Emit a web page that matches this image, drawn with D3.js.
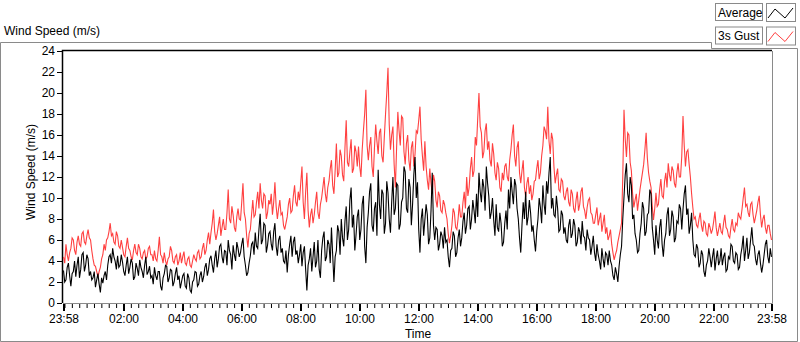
<!DOCTYPE html>
<html>
<head>
<meta charset="utf-8">
<script src="https://cdn.jsdelivr.net/npm/d3@7"></script>
<style>
  body { margin: 0; background: #fff; }
  svg { display: block; font-family: "Liberation Sans", Arial, sans-serif; }
</style>
</head>
<body>
<svg id="chart" width="800" height="342"></svg>
<script>
// 2.5-minute samples from 23:58 to 23:58 next day (one row per hour)
const averageSpeed = [
  3.1, 2.0, 2.2, 3.4, 3.8, 2.6, 1.6, 2.8, 3.0, 4.0, 2.5, 3.6, 4.4, 2.4, 3.2, 4.6, 4.8, 3.0, 3.6, 4.6, 4.2, 2.6, 3.0, 2.2,
  2.4, 3.0, 1.5, 2.2, 2.8, 1.8, 1.0, 2.4, 1.9, 2.6, 3.0, 2.2, 3.6, 4.4, 4.6, 3.8, 5.2, 4.4, 4.0, 3.2, 4.5, 3.4, 3.6, 4.6,
  3.9, 3.0, 2.6, 3.6, 4.4, 2.8, 3.4, 4.2, 3.8, 2.2, 2.5, 3.8, 3.3, 2.6, 4.1, 3.4, 3.0, 2.4, 3.6, 4.4, 2.7, 3.0, 3.5, 2.4,
  2.6, 1.8, 3.4, 2.6, 2.2, 3.0, 3.0, 1.6, 1.2, 2.4, 2.8, 3.6, 3.5, 2.0, 2.4, 3.2, 3.1, 1.6, 2.0, 2.8, 3.4, 2.2, 2.6, 1.4,
  2.0, 2.6, 2.8, 1.6, 1.4, 2.8, 2.4, 1.2, 1.0, 2.0, 2.2, 3.0, 2.9, 1.6, 1.8, 2.6, 3.0, 2.0, 2.5, 3.4, 3.8, 2.6, 3.2, 4.2,
  4.5, 3.6, 2.9, 4.2, 5.0, 3.4, 4.2, 5.4, 5.6, 4.4, 3.8, 5.0, 4.9, 3.6, 6.0, 5.0, 4.6, 3.2, 5.5, 4.6, 4.0, 5.8, 5.2, 4.4,
  4.8, 5.6, 6.2, 4.4, 3.6, 2.6, 2.9, 3.8, 4.5, 5.6, 5.8, 4.6, 6.7, 5.4, 5.2, 7.0, 8.5, 5.6, 6.0, 7.6, 7.4, 4.8, 5.5, 6.6,
  6.8, 5.6, 5.0, 6.8, 7.6, 5.4, 4.5, 6.0, 6.4, 4.8, 5.2, 4.0, 3.8, 5.0, 2.9, 4.6, 5.6, 6.4, 4.4, 5.8, 6.3, 4.6, 5.0, 3.8,
  4.6, 5.6, 3.5, 4.8, 5.4, 3.2, 1.2, 3.6, 4.2, 5.2, 3.0, 4.4, 5.8, 3.4, 4.0, 6.0, 3.2, 2.4, 5.0, 6.2, 6.8, 4.0, 4.4, 6.0,
  5.6, 3.8, 7.2, 4.6, 2.0, 4.4, 5.0, 7.4, 6.8, 4.6, 8.0, 6.2, 5.4, 7.8, 9.2, 6.0, 7.0, 9.8, 11.0, 7.2, 8.4, 5.0, 6.5, 8.2,
  8.9, 6.0, 7.0, 9.4, 10.2, 5.4, 3.8, 7.2, 8.6, 10.6, 11.4, 7.4, 6.8, 9.0, 9.6, 6.4, 12.7, 9.4, 8.0, 10.8, 10.4, 6.6, 7.6, 11.6,
  10.5, 8.0, 6.7, 9.6, 12.0, 8.4, 9.0, 11.4, 11.2, 7.0, 7.5, 9.6, 10.0, 13.0, 12.5, 9.0, 8.6, 11.8, 11.0, 7.4, 9.4, 12.2, 13.9, 10.0,
  11.5, 7.0, 4.8, 8.0, 9.0, 6.4, 7.9, 9.4, 8.4, 5.6, 6.2, 8.8, 12.4, 7.4, 6.0, 7.2, 7.0, 5.0, 5.6, 6.8, 6.4, 5.2, 7.2, 5.8,
  6.0, 4.4, 3.4, 5.0, 5.2, 6.8, 6.4, 4.4, 4.8, 6.2, 7.0, 5.4, 6.2, 7.8, 8.6, 6.6, 7.4, 9.0, 9.2, 7.0, 8.0, 9.8, 8.8, 7.6,
  10.4, 8.2, 12.4, 10.6, 9.6, 11.8, 11.0, 8.8, 13.0, 11.4, 10.2, 8.0, 8.6, 10.0, 7.9, 6.4, 9.4, 7.2, 6.8, 8.6, 7.6, 5.4, 5.8, 7.6,
  8.8, 7.0, 10.8, 9.0, 12.0, 10.6, 9.4, 11.8, 11.2, 9.0, 8.0, 6.2, 4.8, 7.4, 9.6, 8.0, 10.6, 7.4, 8.2, 9.8, 8.6, 6.8, 7.4, 6.0,
  4.9, 6.8, 8.0, 10.0, 9.1, 7.6, 11.2, 9.4, 8.4, 11.6, 10.4, 12.4, 13.9, 9.0, 10.0, 8.4, 8.2, 10.2, 9.0, 6.8, 7.0, 8.8, 8.4, 6.6,
  7.2, 6.0, 5.7, 7.4, 8.0, 6.2, 6.6, 8.0, 7.4, 5.4, 5.8, 7.2, 6.8, 5.6, 7.8, 6.4, 6.2, 5.0, 7.0, 6.2, 6.0, 4.6, 5.4, 6.4,
  4.8, 4.0, 5.6, 4.6, 4.0, 3.2, 5.2, 4.2, 3.4, 4.8, 4.6, 3.6, 5.0, 4.0, 3.6, 2.6, 2.2, 3.4, 2.8, 2.0, 3.5, 4.6, 5.4, 8.0,
  10.1, 12.2, 13.3, 10.4, 9.6, 12.0, 11.2, 8.0, 8.4, 6.6, 6.0, 4.8, 5.0, 6.6, 7.6, 9.6, 9.0, 6.4, 6.8, 8.4, 8.6, 10.8, 10.4, 7.2,
  6.0, 4.6, 7.4, 6.0, 5.2, 7.2, 8.0, 5.6, 4.4, 6.0, 6.6, 8.4, 9.1, 6.4, 7.0, 8.8, 8.2, 5.8, 6.2, 7.8, 7.6, 9.4, 9.0, 7.0,
  8.9, 10.4, 11.2, 8.4, 9.0, 6.6, 7.4, 8.6, 6.0, 4.6, 4.4, 5.6, 5.2, 3.4, 3.8, 5.0, 4.6, 3.0, 2.5, 3.6, 4.0, 5.2, 4.4, 3.4,
  4.4, 5.2, 3.1, 4.2, 5.0, 3.6, 4.0, 5.2, 3.6, 4.4, 4.8, 3.0, 3.2, 4.4, 4.2, 5.6, 5.4, 4.0, 3.8, 4.8, 4.6, 3.2, 3.4, 4.6,
  5.3, 6.4, 4.0, 5.0, 6.2, 4.2, 4.8, 6.0, 7.2, 5.6, 5.4, 4.2, 3.6, 4.6, 5.0, 3.8, 2.9, 3.6, 4.6, 5.6, 6.0, 4.4, 3.8, 5.2,
  4.4
];

const gustSpeed = [
  4.4, 3.8, 5.6, 4.6, 4.0, 4.8, 5.2, 6.2, 6.0, 5.0, 4.6, 5.8, 6.4, 5.6, 5.4, 6.6, 6.8, 5.8, 5.6, 6.4, 7.0, 6.2, 6.0, 5.0,
  4.2, 3.6, 3.5, 3.0, 2.5, 3.0, 3.4, 4.2, 4.6, 5.6, 5.0, 6.0, 6.2, 6.8, 7.6, 6.4, 6.6, 5.8, 5.6, 6.8, 6.4, 5.4, 5.2, 6.0,
  5.3, 4.6, 4.4, 5.4, 6.2, 5.2, 5.0, 4.4, 4.1, 5.0, 5.6, 4.8, 4.6, 5.6, 5.2, 4.4, 4.2, 4.8, 5.0, 4.2, 4.4, 5.2, 5.4, 4.6,
  4.6, 4.0, 5.0, 4.2, 4.0, 5.0, 6.3, 4.6, 4.4, 3.8, 4.8, 4.0, 3.6, 4.2, 4.4, 5.4, 5.0, 4.0, 3.8, 4.4, 4.6, 3.6, 4.0, 4.8,
  3.8, 4.4, 4.9, 3.8, 3.6, 4.2, 4.4, 3.6, 3.4, 4.0, 4.6, 4.2, 4.0, 4.8, 5.0, 4.2, 4.4, 5.2, 5.7, 4.6, 5.0, 6.0, 6.7, 5.6,
  6.7, 7.6, 8.9, 6.8, 6.0, 6.6, 7.4, 8.2, 6.4, 7.2, 8.0, 7.0, 7.0, 8.6, 10.8, 8.0, 7.6, 9.2, 8.4, 7.2, 6.8, 8.2, 9.0, 8.0,
  7.9, 9.6, 11.4, 8.6, 8.0, 6.4, 5.3, 6.6, 7.0, 8.4, 9.8, 8.2, 8.4, 9.6, 10.6, 9.0, 11.4, 9.8, 9.0, 10.4, 10.2, 8.0, 8.6, 9.8,
  9.4, 10.4, 8.4, 9.6, 11.5, 9.2, 8.0, 9.0, 9.8, 8.4, 8.6, 7.4, 7.0, 7.6, 8.2, 9.4, 10.0, 8.6, 8.8, 10.2, 11.2, 9.6, 9.2, 10.6,
  9.8, 11.4, 13.0, 9.6, 8.0, 10.6, 12.4, 8.8, 7.2, 8.4, 9.0, 7.6, 8.4, 9.6, 10.6, 8.6, 8.0, 9.4, 10.0, 11.0, 12.0, 10.4, 9.6, 11.0,
  11.6, 12.8, 13.6, 11.2, 10.4, 12.6, 15.2, 12.0, 12.4, 14.6, 14.0, 12.2, 11.6, 14.8, 17.4, 13.4, 13.0, 14.4, 15.6, 12.4, 12.8, 15.0, 14.4, 13.0,
  14.9, 13.0, 12.0, 14.6, 16.4, 18.0, 20.3, 15.0, 13.6, 15.0, 15.8, 13.0, 12.0, 14.8, 17.0, 15.4, 14.2, 16.2, 16.6, 14.0, 13.4, 15.8, 18.0, 20.0,
  22.4, 17.0, 14.6, 16.0, 16.8, 13.2, 11.0, 14.8, 18.2, 16.4, 15.0, 17.8, 17.6, 14.4, 13.2, 15.2, 16.0, 13.6, 12.6, 14.8, 15.4, 13.0, 14.2, 16.4,
  16.2, 17.4, 18.7, 15.6, 14.0, 12.6, 15.4, 13.0, 11.7, 10.8, 12.8, 11.4, 10.4, 12.2, 11.6, 9.8, 9.1, 10.6, 10.2, 8.8, 8.6, 9.8, 9.4, 8.6,
  8.0, 6.6, 5.7, 6.4, 7.4, 9.0, 8.6, 7.2, 7.0, 8.0, 9.4, 8.2, 8.2, 9.6, 10.6, 9.0, 12.0, 10.2, 11.0, 12.8, 13.9, 12.0, 12.6, 15.8,
  15.0, 17.6, 20.0, 16.8, 16.2, 13.8, 14.4, 16.4, 17.1, 14.6, 15.4, 13.6, 13.0, 15.2, 14.2, 12.4, 11.7, 13.4, 12.8, 11.0, 10.6, 12.4, 11.7, 13.0,
  13.3, 12.0, 11.6, 13.6, 14.6, 16.0, 17.0, 14.0, 13.0, 14.8, 15.4, 12.4, 11.4, 12.6, 13.6, 11.0, 10.1, 11.4, 12.0, 10.4, 11.2, 9.8, 10.4, 11.6,
  11.7, 12.8, 13.6, 11.8, 12.4, 14.0, 15.0, 16.8, 16.4, 15.6, 18.7, 15.4, 14.2, 16.2, 15.6, 13.0, 11.4, 12.2, 12.8, 10.8, 10.6, 11.8, 11.6, 10.2,
  9.8, 10.6, 11.0, 9.6, 9.2, 10.8, 10.4, 9.0, 8.6, 9.8, 10.6, 8.8, 9.4, 10.6, 11.0, 9.2, 8.8, 8.0, 9.1, 9.8, 10.0, 8.6, 8.4, 7.6,
  7.6, 8.4, 9.1, 7.4, 8.0, 8.6, 6.8, 7.6, 8.4, 6.6, 7.2, 6.0, 6.4, 7.0, 5.6, 4.8, 4.1, 4.6, 5.0, 5.8, 6.4, 7.0, 7.6, 12.0,
  18.4, 15.6, 13.9, 16.2, 16.0, 13.4, 12.6, 10.4, 9.1, 9.8, 10.4, 8.8, 9.8, 10.8, 11.6, 12.4, 13.2, 14.6, 16.2, 13.8, 12.4, 11.6, 11.0, 9.2,
  7.9, 9.0, 10.5, 9.2, 9.4, 10.8, 11.8, 10.2, 10.0, 11.6, 12.4, 11.0, 13.3, 12.2, 11.6, 13.0, 12.6, 11.4, 11.0, 12.4, 13.3, 12.0, 12.0, 14.0,
  17.8, 15.0, 13.0, 14.4, 14.6, 13.2, 12.0, 10.4, 9.1, 8.0, 8.2, 7.4, 7.2, 8.0, 8.6, 7.4, 6.8, 7.8, 7.6, 6.6, 6.4, 7.6, 7.2, 6.6,
  7.0, 7.8, 8.7, 7.2, 6.4, 7.0, 7.6, 6.8, 6.6, 7.6, 8.4, 7.2, 7.0, 6.4, 6.2, 7.2, 8.0, 7.0, 6.8, 7.6, 7.4, 8.6, 8.2, 8.0,
  8.9, 10.0, 11.0, 9.2, 9.4, 8.6, 8.2, 9.4, 9.6, 8.4, 7.6, 8.2, 8.8, 9.6, 10.2, 8.4, 7.2, 8.0, 8.4, 7.2, 6.6, 7.4, 7.4, 6.6,
  6.0
];

const sampleMinutes = 2.5;
const seriesNames = ["Average", "3s Gust"];
const seriesColors = ["#000000", "#ff4040"];
const yTicks = [0, 2, 4, 6, 8, 10, 12, 14, 16, 18, 20, 22, 24];
const xTickMinutes = [0, 122, 242, 362, 482, 602, 722, 842, 962, 1082, 1202, 1322, 1440];
const xTickLabels = ["23:58", "02:00", "04:00", "06:00", "08:00", "10:00", "12:00",
                     "14:00", "16:00", "18:00", "20:00", "22:00", "23:58"];

const svg = d3.select("#chart");
const plot = { left: 63, top: 51, right: 772, bottom: 303 };

// outer panel frame
svg.append("path")
    .attr("d", "M0.5,341.5 V42.5 H711.5 V48.5 H797.5 V341.5 Z")
    .style("fill", "none")
    .style("stroke", "#8a8a8a");

svg.append("text")
    .attr("x", 4)
    .attr("y", 35)
    .style("font-size", "12px")
    .text("Wind Speed (m/s)");

// legend
const legend = svg.append("g");
seriesNames.forEach((name, i) => {
    const y0 = 4 + i * 23.5;
    legend.append("rect")
        .attr("x", 715.5).attr("y", y0 - 0.5)
        .attr("width", 47).attr("height", 17)
        .style("fill", "#fff").style("stroke", "#8a8a8a");
    legend.append("text")
        .attr("x", 718).attr("y", y0 + 12.5)
        .style("font-size", "12px")
        .text(name);
    legend.append("rect")
        .attr("x", 766.5).attr("y", y0 - 0.5)
        .attr("width", 29).attr("height", 18)
        .style("fill", "#fff").style("stroke", "#8a8a8a");
    legend.append("path")
        .attr("d", `M768,${y0 + 14} L775,${y0 + 5} L785,${y0 + 14} L793,${y0 + 4}`)
        .style("fill", "none")
        .style("stroke", seriesColors[i]);
});

const x = d3.scaleLinear()
    .domain([0, 1440])
    .range([plot.left + 0.5, plot.right - 0.5]);

const y = d3.scaleLinear()
    .domain([0, 24])
    .range([plot.bottom, plot.top]);

// plot frame
svg.append("rect")
    .attr("x", plot.left).attr("y", plot.top)
    .attr("width", plot.right - plot.left).attr("height", plot.bottom - plot.top)
    .style("fill", "#fff");
svg.append("path")
    .attr("d", `M${plot.left - 0.5},${plot.bottom} V${plot.top - 0.5} H${plot.right}`)
    .style("fill", "none").style("stroke", "#000").style("stroke-width", 1.5);
svg.append("path")
    .attr("d", `M${plot.left},${plot.bottom + 0.5} H${plot.right + 0.5} V${plot.top}`)
    .style("fill", "none").style("stroke", "#8a8a8a");

// y axis
const yAxis = svg.append("g")
    .attr("transform", `translate(${plot.left - 1},0)`)
    .call(d3.axisLeft(y).tickValues(yTicks).tickSize(5).tickPadding(2));
yAxis.select(".domain").remove();
yAxis.selectAll("text").style("font-size", "12px").style("font-family", "Liberation Sans, Arial, sans-serif").style("fill", "#000");

// x axis: minor quarter-hour ticks and major labelled ticks
const minorTicks = d3.range(2, 1440, 15);
const xMinor = svg.append("g")
    .attr("transform", `translate(0,${plot.bottom + 1})`)
    .call(d3.axisBottom(x).tickValues(minorTicks).tickSize(4).tickFormat(""));
xMinor.select(".domain").remove();

const xMajor = svg.append("g")
    .attr("transform", `translate(0,${plot.bottom + 1})`)
    .call(d3.axisBottom(x).tickValues(xTickMinutes).tickSize(7).tickPadding(3)
        .tickFormat((d, i) => xTickLabels[i]));
xMajor.select(".domain").remove();
xMajor.selectAll("line").style("stroke-width", 2);
xMajor.selectAll("text").style("font-size", "12px").style("font-family", "Liberation Sans, Arial, sans-serif").style("fill", "#000");

// axis titles
svg.append("text")
    .attr("x", 418).attr("y", 338)
    .attr("text-anchor", "middle")
    .style("font-size", "12px")
    .text("Time");

svg.append("text")
    .attr("transform", "rotate(-90)")
    .attr("x", -172).attr("y", 35)
    .attr("text-anchor", "middle")
    .style("font-size", "12px")
    .text("Wind Speed (m/s)");

// series (gust underneath, average on top)
const line = d3.line()
    .x((d, i) => x(i * sampleMinutes))
    .y(d => y(d));

svg.append("clipPath").attr("id", "plot-clip")
    .append("rect")
    .attr("x", plot.left).attr("y", plot.top)
    .attr("width", plot.right - plot.left).attr("height", plot.bottom - plot.top);

const lines = svg.append("g").attr("clip-path", "url(#plot-clip)");
[gustSpeed, averageSpeed].forEach((values, k) => {
    lines.append("path")
        .datum(values)
        .attr("d", line)
        .style("fill", "none")
        .style("stroke", k === 0 ? seriesColors[1] : seriesColors[0])
        .style("stroke-width", 1.1);
});
</script>
</body>
</html>
